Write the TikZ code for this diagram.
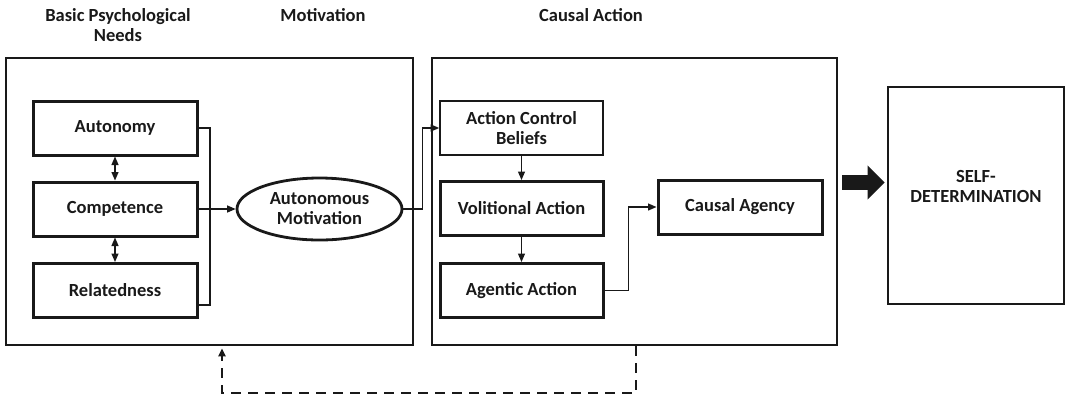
\documentclass[tikz,border=0pt]{standalone}
\usepackage{fontspec}
\setmainfont{Carlito}
\usetikzlibrary{arrows.meta,shapes.geometric}

\begin{document}
\begin{tikzpicture}[x=1pt,y=-1pt,
  every node/.style={font=\bfseries\fontsize{18.5}{20}\selectfont,align=center,text=black!90},
  panel/.style={draw=black!90,line width=2.7pt,inner sep=0pt},
  need/.style={draw=black!90,line width=3pt,minimum width=164pt,minimum height=54pt,inner sep=2pt},
  link/.style={draw=black!90,line width=1.3pt,-{Triangle[length=8.5pt,width=7pt]}},
  both/.style={link,{Triangle[length=8.5pt,width=7pt]}-{Triangle[length=8.5pt,width=7pt]}}]
\useasboundingbox (0,0) rectangle (1065,400);

\node at (118,25) {Basic Psychological\\Needs};
\node at (323,15) {Motivation};
\node at (591,15) {Causal Action};

\node[panel,minimum width=407pt,minimum height=287pt] (needs) at (209.5,201.5) {};
\node[panel,minimum width=405pt,minimum height=287pt] (action) at (634.5,201.5) {};

\node[need] (autonomy) at (115,128) {Autonomy};
\node[need] (competence) at (115,209) {Competence};
\node[need] (relatedness) at (115,290.5) {Relatedness};
\node[draw=black!90,ellipse,line width=2.8pt,minimum width=165pt,minimum height=62pt,inner sep=0pt] (motivation) at (319.5,209) {Autonomous\\Motivation};

\node[need,line width=1.6pt,minimum width=163pt] (beliefs) at (521.5,128) {Action Control\\Beliefs};
\node[need,minimum width=163pt] (volitional) at (521.5,208.5) {Volitional Action};
\node[need,minimum width=163pt] (agentic) at (521.5,290.5) {Agentic Action};
\node[need] (agency) at (740,207) {Causal Agency};

\node[panel,minimum width=176pt,minimum height=217pt] (selfdet) at (976,195.5) {};
\node at (976,186) {SELF-\\DETERMINATION};

\coordinate (bus) at (210,305);
\draw[draw=black!90,line width=1.3pt] (autonomy.east) -| (bus) -- (bus -| relatedness.east);
\draw[link] (competence.east) -- (motivation.west);
\draw[both] (autonomy) -- (competence);
\draw[both] (competence) -- (relatedness);

\draw[link] (motivation.east) -- ++(19,0) |- (beliefs.west);
\draw[link] (beliefs) -- (volitional);
\draw[link] (volitional) -- (agentic);
\draw[link] (agentic.east) -- ++(24,0) |- (agency.west);

\coordinate (tail) at (842,182.5);
\draw[black!90,line width=15pt,shorten >=2pt,-{Triangle[length=17pt,width=33pt]}] (tail) -- (tail -| selfdet.west);

\coordinate (fbr) at (636,393);
\coordinate (fbl) at (222,393);
\draw[black!90,line width=2.8pt,dash pattern=on 10pt off 7pt,shorten >=2pt,-{Triangle[length=8pt,width=7pt]}]
  (fbr |- action.south) -- (fbr) -- (fbl) -- (fbl |- needs.south);
\end{tikzpicture}
\end{document}
